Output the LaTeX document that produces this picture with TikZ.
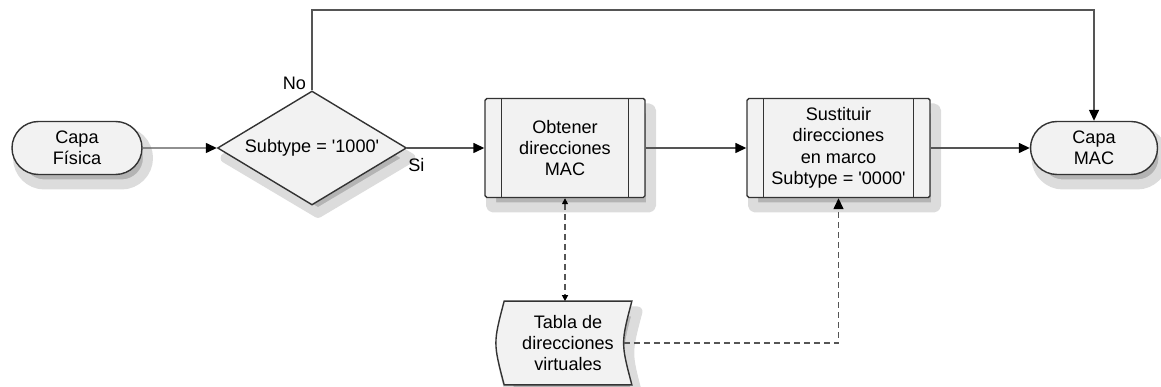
\documentclass[tikz,border=0pt]{standalone}
\usepackage{fontspec}
\setmainfont{Liberation Sans}
\usepackage{tikz}
\usetikzlibrary{positioning, shapes.geometric, shapes.misc, arrows.meta}

\definecolor{borde}{HTML}{333333}
\definecolor{linea}{HTML}{555555}
\definecolor{relleno}{HTML}{F2F2F2}
\definecolor{sombraint}{HTML}{B4B4B4}
\definecolor{sombraext}{HTML}{DCDCDC}

\tikzset{
    sombra/.style={fill=sombraint, draw=sombraext, line width=0.2cm, line join=round, path picture={}},
    base/.style={draw=borde, thick, fill=relleno, align=center, inner sep=0pt,
        font=\fontsize{10.3}{12.2}\selectfont},
    terminal/.style={base, rounded rectangle, minimum width=2.6cm, minimum height=1.06cm},
    decision/.style={base, diamond, aspect=1.66, minimum width=3.78cm, minimum height=2.28cm},
    subproc/.style={base, rectangle, rounded corners=1pt, minimum height=1.98cm,
        path picture={
            \draw[borde, thick] ([xshift=0.33cm]path picture bounding box.north west) -- ([xshift=0.33cm]path picture bounding box.south west);
            \draw[borde, thick] ([xshift=-0.33cm]path picture bounding box.north east) -- ([xshift=-0.33cm]path picture bounding box.south east);
        }},
    flecha/.style={draw=linea, thick, -{Triangle[length=0.22cm, width=0.2cm, color=black]}},
    datos/.style={draw=linea, thick, dash pattern=on 0.12cm off 0.08cm},
}

\begin{document}
\begin{tikzpicture}
    \useasboundingbox (0,0) rectangle (23.22,7.74);

    % Sombras
    \node[terminal, sombra] (sfisica) at (1.66,4.58) {};
    \node[decision, sombra] (sdec) at (6.36,4.58) {};
    \node[subproc, sombra, minimum width=3.2cm] (sobtener) at (11.42,4.58) {};
    \node[subproc, sombra, minimum width=3.66cm] (ssustituir) at (16.89,4.58) {};
    \node[terminal, sombra, minimum width=2.54cm] (smac) at (22.0,4.58) {};
    \begin{scope}[shift={(0.12,-0.2)}]
        \draw[sombra] (10.09,1.71) .. controls (9.87,0.88) .. (10.09,0.05) -- (12.63,0.05)
            .. controls (12.41,0.88) .. (12.63,1.71) -- cycle;
    \end{scope}

    % Nodos
    \node[terminal] (fisica) at (1.54,4.78) {Capa\\Física};
    \node[decision] (dec) at (6.24,4.78) {Subtype = \textquotesingle 1000\textquotesingle};
    \node[subproc, minimum width=3.2cm] (obtener) at (11.30,4.78) {Obtener\\direcciones\\MAC};
    \node[subproc, minimum width=3.66cm] (sustituir) at (16.77,4.78) {Sustituir\\direcciones\\en marco\\Subtype = \textquotesingle 0000\textquotesingle};
    \node[terminal, minimum width=2.54cm] (mac) at (21.88,4.78) {Capa\\MAC};

    % Almacenamiento
    \coordinate (tabla) at (11.36,0.88);
    \path (tabla) node[minimum width=2.54cm, minimum height=1.66cm, inner sep=0pt] (tablaf) {};
    \draw[draw=borde, thick, fill=relleno]
        (tablaf.north west) .. controls ([xshift=-0.22cm]tablaf.west) .. (tablaf.south west)
        -- (tablaf.south east) .. controls ([xshift=-0.22cm]tablaf.east) .. (tablaf.north east) -- cycle;
    \node[font=\fontsize{10.3}{12.2}\selectfont, align=center, inner sep=0pt] (tablat) at (tabla) {Tabla de\\direcciones\\virtuales};

    % Etiquetas
    \node[anchor=south east, font=\fontsize{10.3}{12.2}\selectfont, inner sep=1pt] (no) at ([xshift=-0.08cm,yshift=-0.02cm]dec.north) {No};
    \node[anchor=north west, font=\fontsize{10.3}{12.2}\selectfont, inner sep=1pt] (si) at ([xshift=-0.02cm,yshift=-0.16cm]dec.east) {Si};

    % Flechas
    \coordinate (arriba) at (6.24,7.54);
    \draw[flecha] (fisica) -- (dec);
    \draw[flecha] (dec) -- (obtener);
    \draw[flecha] (obtener) -- (sustituir);
    \draw[flecha] (sustituir) -- (mac);
    \draw[flecha] (dec.north) -- (arriba) -| (mac.north);

    % Datos
    \draw[datos, {Triangle[length=0.12cm, width=0.12cm, color=black]}-{Triangle[length=0.12cm, width=0.12cm, color=black]}]
        (obtener.south) -- (obtener.south |- tablaf.north);
    \draw[datos, -{Triangle[length=0.22cm, width=0.2cm, color=black]}]
        ([xshift=-0.16cm]tablaf.east) -| (sustituir.south);
\end{tikzpicture}
\end{document}
